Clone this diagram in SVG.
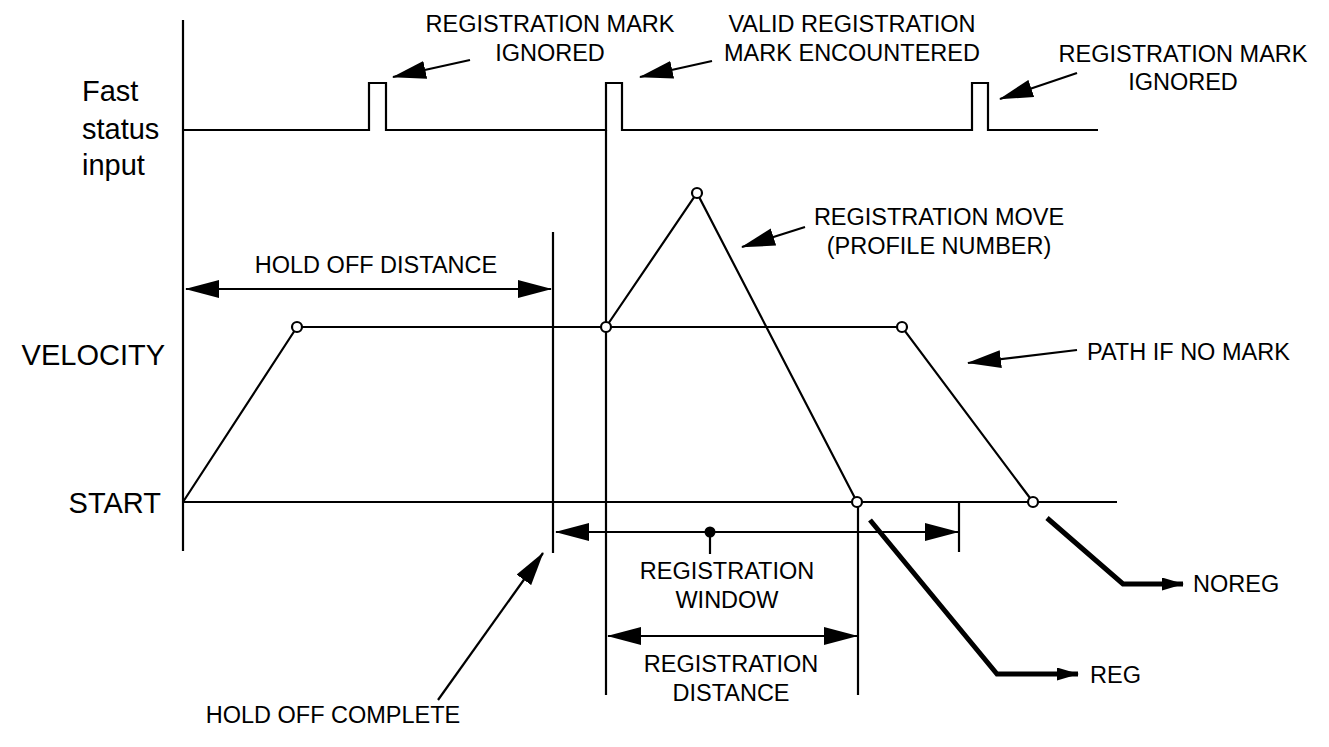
<svg xmlns="http://www.w3.org/2000/svg" width="1329" height="747" viewBox="0 0 1329 747">
<style>
.ln{fill:none;stroke:#000;stroke-width:2.2}
.thk{fill:none;stroke:#000;stroke-width:5;stroke-linejoin:miter}
.pt{fill:#fff;stroke:#000;stroke-width:2.2}
.t{font-family:"Liberation Sans",Arial,sans-serif;font-size:23.5px;fill:#000}
.tl{font-family:"Liberation Sans",Arial,sans-serif;font-size:29px;fill:#000}
.c{text-anchor:middle}
.e{text-anchor:end}
</style>
<defs>
<marker id="ah" viewBox="0 0 34 18" markerWidth="34" markerHeight="18" refX="33" refY="9" markerUnits="userSpaceOnUse" orient="auto-start-reverse">
<path d="M0,0 L34,9 L0,18 z" fill="#000"/>
</marker>
<marker id="ahs" viewBox="0 0 22 13" markerWidth="22" markerHeight="13" refX="21" refY="6.5" markerUnits="userSpaceOnUse" orient="auto">
<path d="M0,0 L22,6.5 L0,13 z" fill="#000"/>
</marker>
</defs>

<g id="axes">
<line class="ln" x1="183" y1="20" x2="183" y2="551"/>
<line class="ln" x1="183" y1="502" x2="1117" y2="502"/>
</g>

<g id="fast-status-signal">
<path class="ln" d="M183,130 H369 V83 H386 V130 H606 V83 H622 V130 H972 V83 H988 V130 H1098"/>
</g>

<g id="reference-lines">
<line class="ln" x1="606" y1="130" x2="606" y2="695"/>
<line class="ln" x1="553" y1="232" x2="553" y2="553"/>
<line class="ln" x1="858" y1="502" x2="858" y2="695"/>
<line class="ln" x1="959" y1="502" x2="959" y2="552"/>
</g>

<g id="velocity-profile">
<polyline class="ln" points="183,502 297,327 902,327 1033,502"/>
<polyline class="ln" points="606,327 697,193 857,502"/>
</g>

<g id="connectors">
<line class="ln" x1="186" y1="289" x2="551" y2="289" marker-start="url(#ah)" marker-end="url(#ah)"/>
<line class="ln" x1="556" y1="532" x2="958" y2="532" marker-start="url(#ah)" marker-end="url(#ah)"/>
<line class="ln" x1="608" y1="636" x2="857" y2="636" marker-start="url(#ah)" marker-end="url(#ah)"/>
<line class="ln" x1="710" y1="532" x2="710" y2="554"/>
<circle cx="710" cy="532" r="5.5" fill="#000"/>
<line class="ln" x1="470" y1="60" x2="393" y2="77" marker-end="url(#ah)"/>
<line class="ln" x1="712" y1="61" x2="640" y2="77" marker-end="url(#ah)"/>
<line class="ln" x1="1077" y1="73" x2="1000" y2="99" marker-end="url(#ah)"/>
<line class="ln" x1="805" y1="227" x2="742" y2="247" marker-end="url(#ah)"/>
<line class="ln" x1="1077" y1="350" x2="968" y2="363" marker-end="url(#ah)"/>
<line class="ln" x1="438" y1="700" x2="543" y2="553" marker-end="url(#ah)"/>
<polyline class="thk" points="870,520 997,674 1078,674" marker-end="url(#ahs)"/>
<polyline class="thk" points="1047,518 1123,584 1183,584" marker-end="url(#ahs)"/>
</g>

<g id="points">
<circle class="pt" cx="297" cy="327" r="5"/>
<circle class="pt" cx="606" cy="327" r="5"/>
<circle class="pt" cx="697" cy="193" r="5"/>
<circle class="pt" cx="902" cy="327" r="5"/>
<circle class="pt" cx="857" cy="502" r="5"/>
<circle class="pt" cx="1033" cy="502" r="5"/>
</g>

<g id="axis-labels">
<text class="tl" x="82" y="101">Fast</text>
<text class="tl" x="82" y="139">status</text>
<text class="tl" x="82" y="175">input</text>
<text class="tl e" x="165" y="365">VELOCITY</text>
<text class="tl e" x="161" y="513">START</text>
</g>

<g id="label-mark-ignored-1">
<text class="t c" x="550" y="32">REGISTRATION MARK</text>
<text class="t c" x="550" y="61">IGNORED</text>
</g>
<g id="label-valid-mark">
<text class="t c" x="852" y="32">VALID REGISTRATION</text>
<text class="t c" x="852" y="61">MARK ENCOUNTERED</text>
</g>
<g id="label-mark-ignored-2">
<text class="t c" x="1183" y="62">REGISTRATION MARK</text>
<text class="t c" x="1183" y="90">IGNORED</text>
</g>
<g id="label-hold-off-distance">
<text class="t c" x="376" y="273">HOLD OFF DISTANCE</text>
</g>
<g id="label-registration-move">
<text class="t c" x="939" y="225">REGISTRATION MOVE</text>
<text class="t c" x="939" y="254">(PROFILE NUMBER)</text>
</g>
<g id="label-path-no-mark">
<text class="t" x="1087" y="360">PATH IF NO MARK</text>
</g>
<g id="label-registration-window">
<text class="t c" x="727" y="579">REGISTRATION</text>
<text class="t c" x="727" y="608">WINDOW</text>
</g>
<g id="label-registration-distance">
<text class="t c" x="731" y="672">REGISTRATION</text>
<text class="t c" x="731" y="701">DISTANCE</text>
</g>
<g id="label-reg">
<text class="t" x="1090" y="683">REG</text>
</g>
<g id="label-noreg">
<text class="t" x="1193" y="592">NOREG</text>
</g>
<g id="label-hold-off-complete">
<text class="t c" x="333" y="723">HOLD OFF COMPLETE</text>
</g>
</svg>
